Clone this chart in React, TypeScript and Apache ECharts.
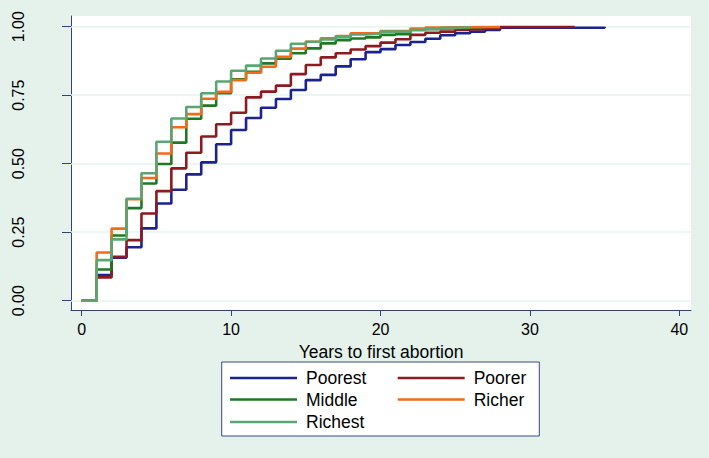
import React, { useEffect, useRef } from "react";
import * as echarts from "echarts";

// Kaplan-Meier style cumulative failure by wealth quintile (value at year index t)
const POOREST = [0, 0.094, 0.157, 0.195, 0.264, 0.355, 0.405, 0.461, 0.505, 0.571, 0.623, 0.667, 0.704, 0.736, 0.769, 0.805, 0.824, 0.855, 0.881, 0.907, 0.918, 0.933, 0.944, 0.956, 0.969, 0.976, 0.982, 0.988, 0.996];
const POOREST_END: [number, number] = [35, 1.0];
const POORER = [0, 0.085, 0.160, 0.221, 0.318, 0.400, 0.483, 0.540, 0.599, 0.644, 0.686, 0.742, 0.763, 0.785, 0.827, 0.860, 0.888, 0.903, 0.917, 0.929, 0.942, 0.954, 0.970, 0.978, 0.982, 0.988, 0.991, 0.994, 0.999];
const POORER_END: [number, number] = [33, 1.0];
const MIDDLE = [0, 0.114, 0.238, 0.338, 0.428, 0.499, 0.577, 0.664, 0.712, 0.757, 0.808, 0.835, 0.866, 0.883, 0.903, 0.921, 0.939, 0.951, 0.957, 0.961, 0.970, 0.973, 0.988, 0.991, 0.994, 0.996, 0.998];
const MIDDLE_END: [number, number] = [27, 1.0];
const RICHER = [0, 0.176, 0.263, 0.370, 0.448, 0.537, 0.633, 0.681, 0.737, 0.762, 0.805, 0.832, 0.854, 0.890, 0.920, 0.945, 0.958, 0.966, 0.976, 0.976, 0.984, 0.984, 0.993, 0.997, 0.998, 0.999];
const RICHER_END: [number, number] = [28, 1.0];
const RICHEST = [0, 0.148, 0.224, 0.372, 0.465, 0.580, 0.665, 0.707, 0.757, 0.800, 0.839, 0.858, 0.884, 0.912, 0.938, 0.945, 0.953, 0.962, 0.972, 0.974, 0.982, 0.982, 0.988, 0.993, 0.996, 0.998];
const RICHEST_END: [number, number] = [26, 1.0];

const SERIES_NAMES = ["Poorest", "Poorer", "Middle", "Richer", "Richest"];
const X_TICKS = [0, 10, 20, 30, 40];
const Y_TICKS = [0, 0.25, 0.5, 0.75, 1.0];
const X_TITLE = "Years to first abortion";

const COLORS = ["#1a2390", "#8c1a1e", "#1e7a22", "#f26b1d", "#5aa673"];
const AXIS_COLOR = "#34427a";
const BG = "#e5f2eb";
const FONT = "'Liberation Sans', Arial, Helvetica, sans-serif";

function toSteps(vals: number[], end: [number, number]) {
  const d = vals.map((v, t) => [t, v]);
  d.push([end[0], end[1]]);
  return d;
}

export default function App() {
  const ref = useRef<HTMLDivElement>(null);
  useEffect(() => {
    document.body.style.margin = "0";
    const chart = echarts.init(ref.current!, null, { renderer: "svg" });
    const dataSets = [
      toSteps(POOREST, POOREST_END),
      toSteps(POORER, POORER_END),
      toSteps(MIDDLE, MIDDLE_END),
      toSteps(RICHER, RICHER_END),
      toSteps(RICHEST, RICHEST_END),
    ];
    const legendPos = [
      { left: 230, top: 369 },
      { left: 397.7, top: 369 },
      { left: 230, top: 390.5 },
      { left: 397.7, top: 390.5 },
      { left: 230, top: 413 },
    ];
    const series: any[] = dataSets.map((d, i) => ({
      name: SERIES_NAMES[i],
      type: "line",
      step: "end",
      data: d,
      symbol: "none",
      lineStyle: { color: COLORS[i], width: 2.6 },
      itemStyle: { color: COLORS[i] },
      z: 3,
    }));
    series[0].markLine = {
      silent: true,
      symbol: "none",
      z: 1,
      label: { show: false },
      lineStyle: { color: "#e8f3ee", width: 1.5, type: "solid" },
      data: Y_TICKS.map((v) => ({ yAxis: v })),
    };
    chart.setOption({
      animation: false,
      backgroundColor: BG,
      textStyle: { fontFamily: FONT },
      grid: {
        left: 71,
        right: 18,
        top: 16,
        bottom: 148,
        show: true,
        backgroundColor: "#ffffff",
        borderWidth: 0,
      },
      graphic: [
        {
          type: "rect",
          shape: { x: 221.7, y: 362, width: 317.6, height: 74 },
          style: { fill: "#ffffff", stroke: "#3a4784", lineWidth: 1 },
          z: -1,
        },
      ],
      legend: SERIES_NAMES.map((n, i) => ({
        data: [{ name: n, icon: "rect", itemStyle: { color: COLORS[i] } }],
        left: legendPos[i].left,
        top: legendPos[i].top,
        padding: 0,
        itemWidth: 67,
        itemHeight: 2.6,
        itemGap: 0,
        selectedMode: false,
        textStyle: { fontSize: 17.5, color: "#000", fontFamily: FONT, padding: [0, 0, 0, 4] },
      })),
      xAxis: {
        type: "value",
        min: -0.716,
        max: 40.78,
        name: X_TITLE,
        nameLocation: "middle",
        nameGap: 33,
        nameTextStyle: { fontSize: 17.5, color: "#000", fontFamily: FONT },
        axisLine: { show: true, onZero: false, lineStyle: { color: AXIS_COLOR, width: 1 } },
        axisTick: { show: true, length: 6, customValues: X_TICKS, lineStyle: { color: AXIS_COLOR } },
        axisLabel: { customValues: X_TICKS, fontSize: 16, color: "#000", margin: 11, fontFamily: FONT },
        splitLine: { show: false },
      },
      yAxis: {
        type: "value",
        min: -0.0339,
        max: 1.039,
        axisLine: { show: true, onZero: false, lineStyle: { color: AXIS_COLOR, width: 1 } },
        axisTick: { show: true, length: 9, customValues: Y_TICKS, lineStyle: { color: AXIS_COLOR } },
        axisLabel: {
          customValues: Y_TICKS,
          rotate: 90,
          fontSize: 16,
          color: "#000",
          margin: 45,
          fontFamily: FONT,
          formatter: (v: number) => v.toFixed(2),
        },
        splitLine: { show: false },
      },
      series,
    });
    return () => chart.dispose();
  }, []);
  return <div ref={ref} style={{ width: 709, height: 458 }} />;
}
